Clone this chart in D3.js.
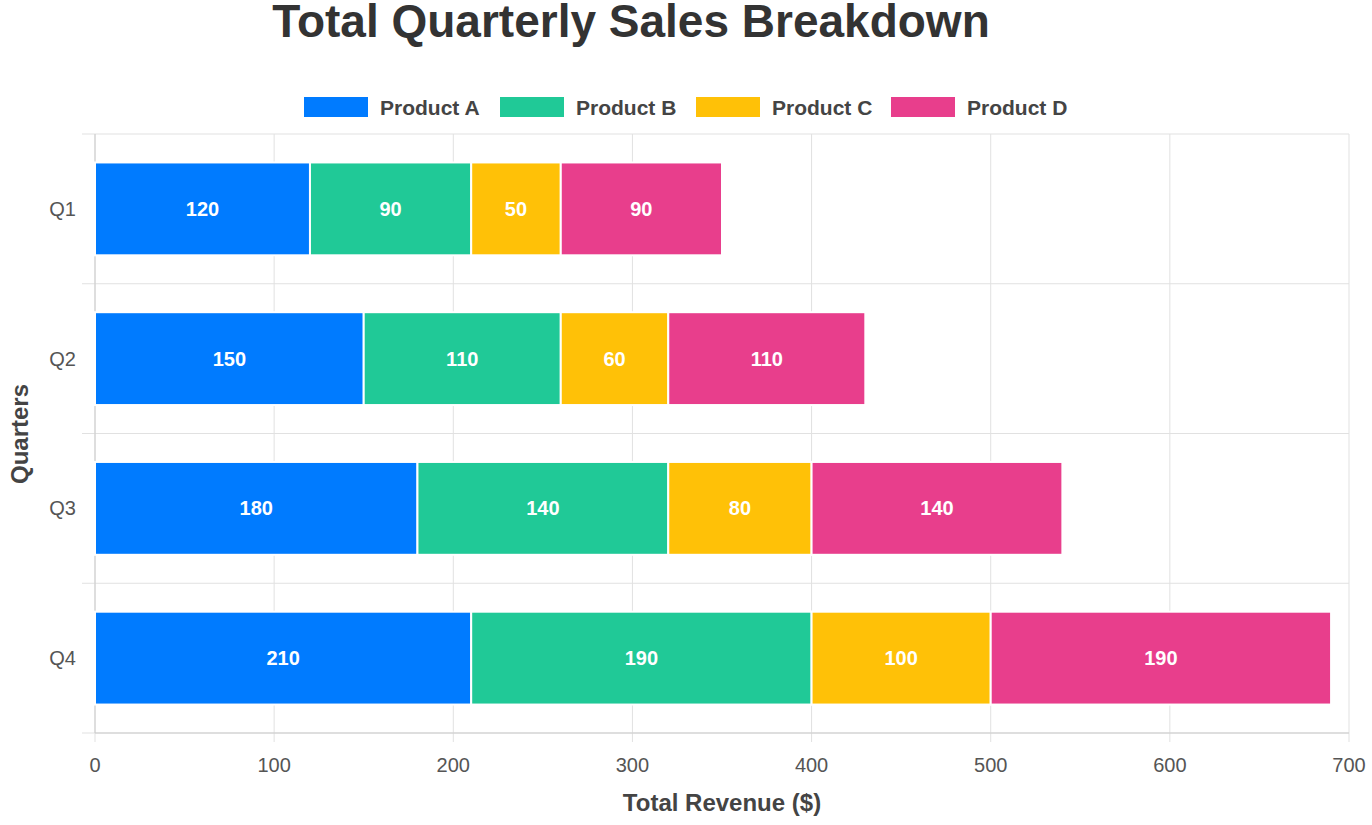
<!DOCTYPE html>
<html>
<head>
<meta charset="utf-8">
<script src="https://cdn.jsdelivr.net/npm/d3@7"></script>
<style>
body { margin: 0; background: #fff; font-family: "Liberation Sans", Arial, sans-serif; }
</style>
</head>
<body>
<svg width="1372" height="825"></svg>
<script>
var quarters = ["Q1", "Q2", "Q3", "Q4"];
var products = ["Product A", "Product B", "Product C", "Product D"];
var productA = [120, 150, 180, 210];
var productB = [90, 110, 140, 190];
var productC = [50, 60, 80, 100];
var productD = [90, 110, 140, 190];
var colors = ["#007bff", "#20c997", "#ffc107", "#e83e8c"];
var xTicks = [0, 100, 200, 300, 400, 500, 600, 700];

var series = [productA, productB, productC, productD];
var rows = quarters.map(function(q, i) {
    var r = { quarter: q };
    products.forEach(function(p, j) { r[p] = series[j][i]; });
    return r;
});
var stacked = d3.stack().keys(products)(rows);

var svg = d3.select("svg");
var plotLeft = 95, plotRight = 1349, plotTop = 134, plotBottom = 733;

var x = d3.scaleLinear().domain([0, 700]).range([plotLeft, plotRight]);
var y = d3.scaleBand().domain(quarters).range([plotTop, plotBottom]).paddingInner(0.38).paddingOuter(0.19);
var yb = d3.scaleBand().domain(quarters).range([plotTop, plotBottom]);

// grid
var grid = svg.append("g").attr("stroke", "#e1e1e1").attr("stroke-width", 1);
xTicks.forEach(function(t) {
    grid.append("line").attr("x1", x(t)).attr("x2", x(t)).attr("y1", plotTop).attr("y2", plotBottom + 9);
});
quarters.forEach(function(q) {
    grid.append("line").attr("x1", plotLeft - 13).attr("x2", plotRight).attr("y1", yb(q)).attr("y2", yb(q));
});
grid.append("line").attr("x1", plotLeft - 13).attr("x2", plotRight).attr("y1", plotBottom).attr("y2", plotBottom);
svg.append("line").attr("x1", plotLeft).attr("x2", plotLeft).attr("y1", plotTop).attr("y2", plotBottom).attr("stroke", "#ccc");
svg.append("line").attr("x1", plotLeft).attr("x2", plotRight).attr("y1", plotBottom).attr("y2", plotBottom).attr("stroke", "#ccc");

// bars
stacked.forEach(function(s, j) {
    var g = svg.append("g");
    g.selectAll("rect").data(s).join("rect")
        .attr("x", function(d) { return x(d[0]); })
        .attr("y", function(d) { return y(d.data.quarter); })
        .attr("width", function(d) { return x(d[1]) - x(d[0]); })
        .attr("height", y.bandwidth())
        .attr("fill", colors[j])
        .attr("stroke", "#fff").attr("stroke-width", 2);
    g.selectAll("text").data(s).join("text")
        .attr("x", function(d) { return (x(d[0]) + x(d[1])) / 2; })
        .attr("y", function(d) { return y(d.data.quarter) + y.bandwidth() / 2; })
        .attr("text-anchor", "middle").attr("dominant-baseline", "central")
        .attr("fill", "#fff").attr("font-weight", "bold").attr("font-size", 20)
        .text(function(d) { return d[1] - d[0]; });
});

// axis labels
svg.selectAll(".xt").data(xTicks).join("text")
    .attr("x", function(d) { return x(d); }).attr("y", 772)
    .attr("text-anchor", "middle").attr("font-size", 20).attr("fill", "#555")
    .text(function(d) { return d; });
svg.selectAll(".yt").data(quarters).join("text")
    .attr("x", 76).attr("y", function(d) { return yb(d) + yb.bandwidth() / 2; })
    .attr("text-anchor", "end").attr("dominant-baseline", "central")
    .attr("font-size", 20).attr("fill", "#555")
    .text(function(d) { return d; });

svg.append("text").attr("x", 722).attr("y", 811).attr("text-anchor", "middle")
    .attr("font-size", 24).attr("font-weight", "bold").attr("fill", "#444")
    .text("Total Revenue ($)");
svg.append("text").attr("transform", "translate(28,434) rotate(-90)").attr("text-anchor", "middle")
    .attr("font-size", 24).attr("font-weight", "bold").attr("fill", "#444")
    .text("Quarters");

svg.append("text").attr("x", 631).attr("y", 37).attr("text-anchor", "middle")
    .attr("font-size", 46).attr("font-weight", "bold").attr("fill", "#333")
    .text("Total Quarterly Sales Breakdown");

// legend
var legendX = [304, 500, 696, 891];
products.forEach(function(p, j) {
    svg.append("rect").attr("x", legendX[j]).attr("y", 97).attr("width", 64).attr("height", 20)
        .attr("fill", colors[j]);
    svg.append("text").attr("x", legendX[j] + 76).attr("y", 107).attr("dominant-baseline", "central")
        .attr("font-size", 21).attr("font-weight", "bold").attr("fill", "#444").text(p);
});
</script>
</body>
</html>
